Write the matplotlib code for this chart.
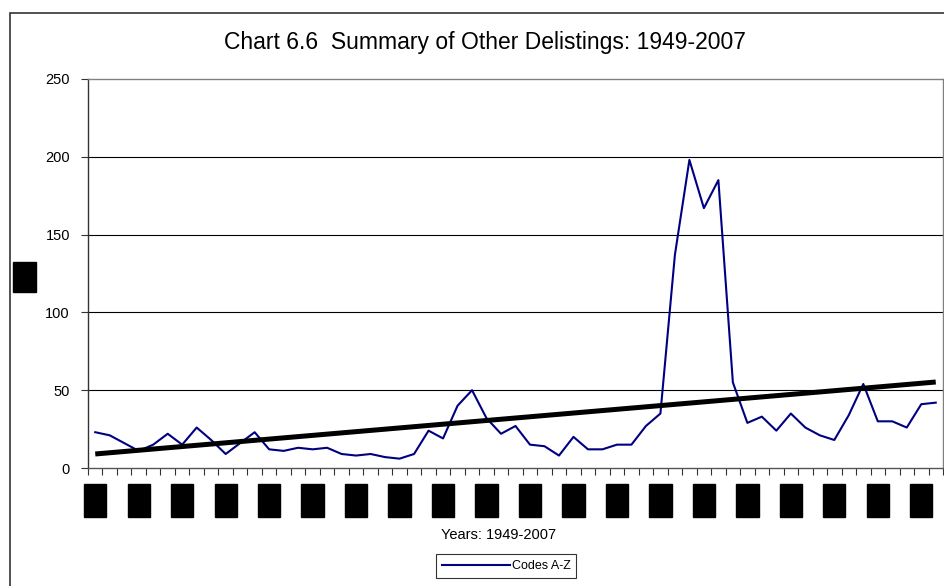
import numpy as np
import matplotlib
matplotlib.use("Agg")
import matplotlib.pyplot as plt
from matplotlib.patches import Rectangle

plt.rcParams['font.family'] = ['Liberation Sans', 'DejaVu Sans']

years = list(range(1949, 2008))
codes_az = [23, 21, 16, 11, 15, 22, 15, 26, 18, 9,
            16, 23, 12, 11, 13, 12, 13, 9, 8, 9,
            7, 6, 9, 24, 19, 40, 50, 32, 22, 27,
            15, 14, 8, 20, 12, 12, 15, 15, 27, 35,
            137, 198, 167, 185, 55, 29, 33, 24, 35, 26,
            21, 18, 34, 54, 30, 30, 26, 41, 42]
label_years = years[::3]

x = np.arange(len(years))
slope, icept = np.polyfit(x, codes_az, 1)
trend = slope * x + icept

fig = plt.figure(figsize=(9.45, 5.86), dpi=100)
ax = fig.add_axes([88/945, 1 - 468/586, (943 - 88)/945, (468 - 79)/586])

ax.plot(x, codes_az, color='#000080', lw=1.5, label='Codes A-Z', zorder=3)
ax.plot(x, trend, color='black', lw=3.6, solid_capstyle='butt', zorder=4)

ax.set_xlim(-0.5, len(years) - 0.5)
ax.set_ylim(0, 250)
ax.set_yticks([0, 50, 100, 150, 200, 250])
ax.tick_params(axis='y', direction='out', length=5, width=0.8, color='#333333',
               labelsize=10.5, pad=8)
for v in [50, 100, 150, 200]:
    ax.axhline(v, color='black', lw=0.8, zorder=1)

# labels sit on every third year, tick marks between categories
ax.set_xticks(x[::3])
ax.set_xticklabels([str(y) for y in label_years], rotation=90, fontsize=6.4,
                   va='top', ha='center', color='black')
ax.set_xticks(np.arange(-0.5, len(years) + 0.5, 1), minor=True)
ax.tick_params(axis='x', which='major', length=0, pad=16)
ax.tick_params(axis='x', which='minor', direction='out', length=5, width=0.8,
               color='#333333')
for lab in ax.get_xticklabels():
    lab.set_bbox(dict(facecolor='black', edgecolor='black', pad=4.8))

ax.spines['left'].set_color('#333333')
ax.spines['bottom'].set_color('#555555')
ax.spines['top'].set_color('#808080')
ax.spines['right'].set_color('#808080')
for s in ax.spines.values():
    s.set_linewidth(1.0)

ax.set_ylabel('No.', fontsize=10, color='black',
             bbox=dict(facecolor='black', edgecolor='black', pad=3))
ax.yaxis.set_label_coords(-0.066, 0.49)

fig.text(485/945, 1 - 42/586, 'Chart 6.6  Summary of Other Delistings: 1949-2007',
         ha='center', va='center', fontsize=16.5)
fig.text(499/945, 1 - 535/586, 'Years: 1949-2007', ha='center', va='center',
         fontsize=10.5)

leg = fig.legend(handles=ax.get_lines()[:1], loc='center',
                 bbox_to_anchor=(506/945, 1 - 566/586), fontsize=9,
                 frameon=True, fancybox=False, handlelength=5.5,
                 borderpad=0.45, handletextpad=0.1, borderaxespad=0)
leg.get_frame().set_edgecolor('black')
leg.get_frame().set_linewidth(0.8)

# outer chart border
fig.patches.append(Rectangle((10/945, -0.05), 1.1, 1 - 13/586 + 0.05,
                             transform=fig.transFigure, fill=False,
                             edgecolor='#333333', lw=1.2))

fig.savefig('out.png', dpi=100)
